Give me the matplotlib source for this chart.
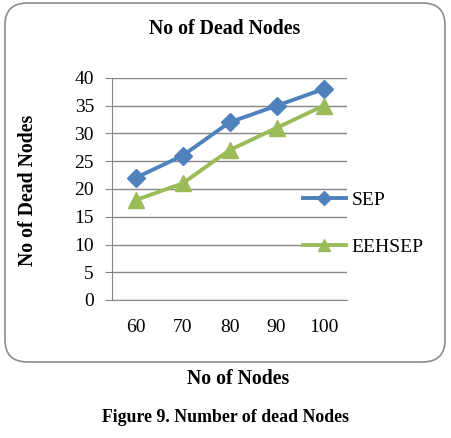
import matplotlib.pyplot as plt
from matplotlib.patches import FancyBboxPatch
import numpy as np

# Data
nodes = ['60', '70', '80', '90', '100']
sep = [22, 26, 32, 35, 38]
eehsep = [18, 21, 27, 31, 35]

plt.rcParams['font.family'] = 'Liberation Serif'

fig = plt.figure(figsize=(4.51, 4.38), dpi=100)

# rounded chart border, kept behind the axes
box = FancyBboxPatch((5 / 451, 1 - 362 / 438), 440 / 451, 359 / 438,
                     boxstyle='round,pad=0,rounding_size=0.05',
                     transform=fig.transFigure, facecolor='white',
                     edgecolor='#8c8c8c', linewidth=1.2, zorder=-10)
fig.patches.append(box)

ax = fig.add_axes([112 / 451, 1 - 300 / 438, 235 / 451, 222 / 438])
ax.set_facecolor('none')
ax.set_zorder(5)
x = np.arange(len(nodes))

ax.plot(x, sep, color='#4F81BD', marker='D', markersize=9, linewidth=2.8, label='SEP')
ax.plot(x, eehsep, color='#9BBB59', marker='^', markersize=11, linewidth=2.8, label='EEHSEP')

ax.set_xlim(-0.5, len(nodes) - 0.5)
ax.set_ylim(0, 40)
ax.set_yticks(range(0, 41, 5))
ax.set_xticks(x)
ax.set_xticklabels(nodes)
ax.tick_params(axis='x', length=0, pad=14, labelsize=14)
ax.tick_params(axis='y', length=5, color='#868686', pad=8, labelsize=14)
ax.grid(axis='y', color='#868686', linewidth=1)
ax.set_axisbelow(True)
for s in ['top', 'right']:
    ax.spines[s].set_visible(False)
ax.spines['left'].set_color('#868686')
ax.spines['bottom'].set_color('#868686')

ax.legend(loc='center left', bbox_to_anchor=(303 / 451, 1 - 223.5 / 438),
          bbox_transform=fig.transFigure, borderaxespad=0, borderpad=0,
          frameon=False, fontsize=14, handlelength=2.2, handletextpad=0.3,
          labelspacing=1.5, markerscale=0.8)

fig.text(225 / 451, 1 - 29 / 438, 'No of Dead Nodes', ha='center', va='center',
         fontsize=14.3, fontweight='bold')
fig.text(28 / 451, 1 - 190 / 438, 'No of Dead Nodes', ha='center', va='center',
         rotation=90, fontsize=14.3, fontweight='bold')
fig.text(238 / 451, 1 - 379 / 438, 'No of Nodes', ha='center', va='center',
         fontsize=14.3, fontweight='bold')
fig.text(225 / 451, 1 - 418 / 438, 'Figure 9. Number of dead Nodes', ha='center',
         va='center', fontsize=12.8, fontweight='bold')

fig.savefig('out.png', dpi=100)
